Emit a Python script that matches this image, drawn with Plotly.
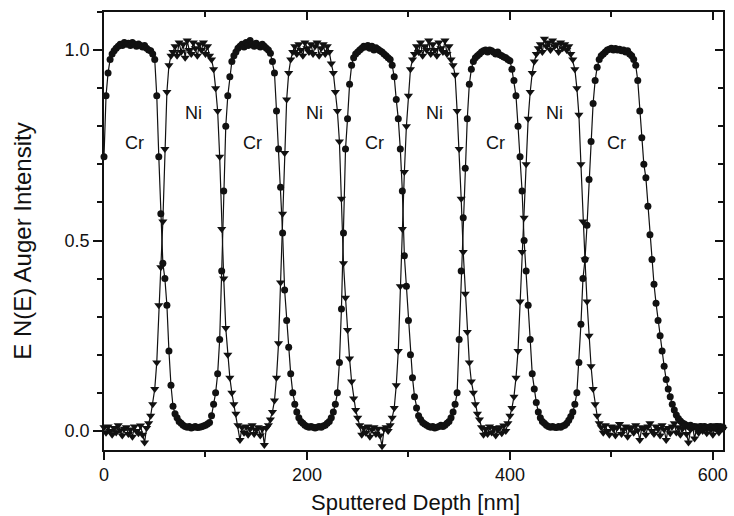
import plotly.graph_objects as go

# ---------------- data ----------------
depth_nm = [
    0, 2, 4, 6, 8, 10, 12, 14, 16, 18,
    20, 22, 24, 26, 28, 30, 32, 34, 36, 38,
    40, 42, 44, 46, 48, 50, 52, 54, 56, 58,
    60, 62, 64, 66, 68, 70, 72, 74, 76, 78,
    80, 82, 84, 86, 88, 90, 92, 94, 96, 98,
    100, 102, 104, 106, 108, 110, 112, 114, 116, 118,
    120, 122, 124, 126, 128, 130, 132, 134, 136, 138,
    140, 142, 144, 146, 148, 150, 152, 154, 156, 158,
    160, 162, 164, 166, 168, 170, 172, 174, 176, 178,
    180, 182, 184, 186, 188, 190, 192, 194, 196, 198,
    200, 202, 204, 206, 208, 210, 212, 214, 216, 218,
    220, 222, 224, 226, 228, 230, 232, 234, 236, 238,
    240, 242, 244, 246, 248, 250, 252, 254, 256, 258,
    260, 262, 264, 266, 268, 270, 272, 274, 276, 278,
    280, 282, 284, 286, 288, 290, 292, 294, 296, 298,
    300, 302, 304, 306, 308, 310, 312, 314, 316, 318,
    320, 322, 324, 326, 328, 330, 332, 334, 336, 338,
    340, 342, 344, 346, 348, 350, 352, 354, 356, 358,
    360, 362, 364, 366, 368, 370, 372, 374, 376, 378,
    380, 382, 384, 386, 388, 390, 392, 394, 396, 398,
    400, 402, 404, 406, 408, 410, 412, 414, 416, 418,
    420, 422, 424, 426, 428, 430, 432, 434, 436, 438,
    440, 442, 444, 446, 448, 450, 452, 454, 456, 458,
    460, 462, 464, 466, 468, 470, 472, 474, 476, 478,
    480, 482, 484, 486, 488, 490, 492, 494, 496, 498,
    500, 502, 504, 506, 508, 510, 512, 514, 516, 518,
    520, 522, 524, 526, 528, 530, 532, 534, 536, 538,
    540, 542, 544, 546, 548, 550, 552, 554, 556, 558,
    560, 562, 564, 566, 568, 570, 572, 574, 576, 578,
    580, 582, 584, 586, 588, 590, 592, 594, 596, 598,
    600, 602, 604, 606, 608, 610,
]

cr_intensity = [
    0.72, 0.88, 0.94, 0.975, 0.99, 0.998, 1.005, 1.01, 1.015, 1.012,
    1.02, 1.015, 1.018, 1.012, 1.02, 1.015, 1.01, 1.016, 1.012, 1.008,
    1.012, 1.005, 1.0, 0.998, 0.99, 0.975, 0.88, 0.72, 0.57, 0.44,
    0.40, 0.33, 0.21, 0.12, 0.065, 0.045, 0.035, 0.025, 0.02, 0.015,
    0.012, 0.01, 0.012, 0.008, 0.01, 0.012, 0.009, 0.01, 0.011, 0.013,
    0.015, 0.018, 0.022, 0.04, 0.07, 0.10, 0.15, 0.24, 0.42, 0.63,
    0.80, 0.88, 0.93, 0.97, 0.985, 0.995, 1.005, 1.01, 1.015, 1.008,
    1.02, 1.012, 1.025, 1.015, 1.01, 1.018, 1.012, 1.008, 1.015, 1.01,
    1.005, 1.0, 0.992, 0.97, 0.94, 0.84, 0.74, 0.64, 0.52, 0.37,
    0.29, 0.22, 0.15, 0.10, 0.07, 0.05, 0.035, 0.025, 0.02, 0.015,
    0.012, 0.01, 0.012, 0.01, 0.008, 0.01, 0.012, 0.01, 0.013, 0.015,
    0.02, 0.025, 0.035, 0.05, 0.07, 0.10, 0.18, 0.32, 0.52, 0.74,
    0.82, 0.91, 0.96, 0.98, 0.99, 0.995, 1.0, 1.005, 1.01, 1.008,
    1.012, 1.005, 1.01, 1.0, 1.006, 1.002, 0.998, 0.995, 0.99, 0.985,
    0.98, 0.975, 0.96, 0.93, 0.87, 0.82, 0.74, 0.63, 0.46, 0.38,
    0.29, 0.20, 0.14, 0.09, 0.06, 0.04, 0.03, 0.022, 0.018, 0.015,
    0.012, 0.01, 0.012, 0.008, 0.01, 0.012, 0.015, 0.012, 0.015, 0.02,
    0.025, 0.035, 0.05, 0.07, 0.10, 0.24, 0.42, 0.56, 0.69, 0.82,
    0.91, 0.95, 0.97, 0.98, 0.985, 0.99, 0.995, 0.998, 1.0, 0.995,
    1.0, 0.998, 0.994, 0.99, 0.995, 0.988, 0.985, 0.982, 0.98, 0.975,
    0.972, 0.95, 0.92, 0.88, 0.80, 0.72, 0.63, 0.50, 0.42, 0.33,
    0.24, 0.15, 0.11, 0.075, 0.05, 0.035, 0.025, 0.02, 0.015, 0.012,
    0.01, 0.012, 0.01, 0.009, 0.012, 0.01, 0.013, 0.015, 0.02, 0.028,
    0.038, 0.05, 0.07, 0.10, 0.18, 0.28, 0.40, 0.45, 0.54, 0.66,
    0.76, 0.86, 0.92, 0.955, 0.975, 0.985, 0.99, 0.995, 1.0, 1.002,
    1.005, 1.0, 1.004, 1.0, 1.002, 0.998, 1.0, 0.995, 0.998, 0.99,
    0.985, 0.975, 0.96, 0.92, 0.84, 0.77, 0.70, 0.665, 0.59, 0.515,
    0.45, 0.385, 0.335, 0.29, 0.25, 0.21, 0.17, 0.135, 0.11, 0.09,
    0.07, 0.055, 0.042, 0.033, 0.026, 0.021, 0.018, 0.015, 0.012, 0.015,
    0.01, 0.012, 0.01, 0.008, 0.012, 0.01, 0.012, 0.009, 0.01, 0.012,
    0.008, 0.01, 0.012, 0.01, 0.011, 0.01,
]

ni_intensity = [
    0.01, -0.005, 0.012, 0.0, -0.01, 0.008, -0.004, 0.015, 0.002, -0.012,
    0.006, 0.01, -0.008, 0.004, -0.015, 0.012, 0.0, -0.006, 0.014, -0.01,
    -0.03, 0.008, 0.02, 0.04, 0.07, 0.11, 0.18, 0.33, 0.43, 0.55,
    0.74, 0.89, 0.96, 0.985, 0.995, 1.01, 0.985, 1.02, 0.995, 1.015,
    0.98, 1.025, 1.0, 0.99, 1.02, 1.005, 0.985, 1.015, 1.0, 1.02,
    0.99, 1.01, 0.985, 0.975, 0.95, 0.90, 0.84, 0.72, 0.53, 0.40,
    0.27, 0.20, 0.14, 0.10, 0.07, 0.045, 0.015, -0.024, 0.01, -0.005,
    0.012, -0.01, 0.005, 0.015, -0.008, 0.003, 0.01, -0.012, 0.006, -0.037,
    0.008, 0.015, 0.03, 0.05, 0.08, 0.14, 0.23, 0.39, 0.57, 0.73,
    0.87, 0.94, 0.975, 0.995, 1.01, 0.99, 1.015, 1.0, 0.985, 1.02,
    1.005, 0.995, 1.015, 0.99, 1.01, 1.02, 0.985, 1.005, 1.015, 0.99,
    1.01, 0.995, 0.965, 0.94, 0.89, 0.84, 0.76, 0.61, 0.44, 0.35,
    0.265, 0.19, 0.13, 0.085, 0.055, 0.035, 0.015, -0.01, 0.008, -0.005,
    0.012, -0.015, 0.004, 0.01, -0.008, 0.006, -0.012, -0.04, 0.005, 0.01,
    0.0, 0.015, 0.035, 0.06, 0.12, 0.21, 0.38, 0.53, 0.68, 0.80,
    0.88, 0.95, 0.975, 0.99, 1.01, 0.995, 1.02, 0.985, 1.01, 1.0,
    1.025, 0.99, 1.015, 1.0, 0.985, 1.02, 1.005, 0.995, 1.025, 0.99,
    1.01, 0.975, 0.96, 0.935, 0.84, 0.74, 0.61, 0.47, 0.36, 0.26,
    0.18, 0.13, 0.10, 0.07, 0.045, 0.03, 0.01, -0.01, 0.005, -0.008,
    0.012, -0.004, 0.008, -0.012, 0.003, 0.01, -0.006, 0.014, 0.0, 0.02,
    0.04, 0.06, 0.09, 0.14, 0.21, 0.34, 0.47, 0.56, 0.70, 0.82,
    0.89, 0.94, 0.97, 0.99, 1.005, 1.015, 0.995, 1.03, 1.01, 1.02,
    1.0, 1.025, 1.01, 1.015, 0.995, 1.02, 1.005, 1.015, 1.0, 1.01,
    0.99, 0.975, 0.95, 0.90, 0.83, 0.70, 0.55, 0.45, 0.34, 0.25,
    0.17, 0.11, 0.07, 0.04, 0.02, 0.01, -0.005, 0.015, 0.0, -0.01,
    0.012, 0.005, -0.012, 0.01, 0.018, -0.008, 0.004, 0.012, -0.015, 0.006,
    0.01, -0.005, 0.015, 0.002, -0.024, 0.01, 0.005, -0.01, 0.012, 0.02,
    0.0, -0.008, 0.012, 0.005, -0.012, 0.015, 0.004, -0.024, 0.008, -0.006,
    0.012, 0.02, -0.004, 0.01, -0.01, 0.006, 0.015, -0.008, -0.03, 0.004,
    0.012, -0.02, 0.008, -0.005, 0.014, 0.0, 0.01, -0.006, 0.012, 0.004,
    -0.01, 0.008, 0.015, -0.004, 0.01, 0.005,
]

x_tick_vals = [0, 200, 400, 600]
x_minor_vals = [100, 300, 500]
y_tick_vals = [0.0, 0.5, 1.0]
y_tick_text = ["0.0", "0.5", "1.0"]

label_text = ["Cr", "Ni", "Cr", "Ni", "Cr", "Ni", "Cr", "Ni", "Cr"]
label_x = [30, 88, 146, 207, 266.5, 325.5, 386, 444, 505]
label_y = [0.757, 0.836, 0.757, 0.836, 0.757, 0.836, 0.757, 0.836, 0.757]

x_title = "Sputtered Depth [nm]"
y_title = "E N(E) Auger Intensity"

# ---------------- figure ----------------
INK = "#111111"
FONT = "Liberation Sans, Arial, Helvetica, sans-serif"
X_RANGE = [0, 610]
Y_RANGE = [-0.05, 1.1]

fig = go.Figure()
fig.add_trace(go.Scatter(
    x=depth_nm, y=cr_intensity, mode="lines+markers", name="Cr",
    line=dict(color=INK, width=1.2),
    marker=dict(symbol="circle", size=7, color=INK),
    cliponaxis=False,
))
fig.add_trace(go.Scatter(
    x=depth_nm, y=ni_intensity, mode="lines+markers", name="Ni",
    line=dict(color=INK, width=1.2),
    marker=dict(symbol="triangle-down", size=8, color=INK),
    cliponaxis=False,
))
# empty trace so that the mirrored top/right frame axes are drawn
fig.add_trace(go.Scatter(x=[None], y=[None], xaxis="x2", yaxis="y2",
                         mode="markers", showlegend=False, hoverinfo="skip"))

for t, xv, yv in zip(label_text, label_x, label_y):
    fig.add_annotation(x=xv, y=yv, xref="x", yref="y", text=t, showarrow=False,
                       font=dict(size=18, color=INK, family=FONT))

# axis titles
fig.add_annotation(x=0.503, y=-0.121, xref="paper", yref="paper", text=x_title,
                   showarrow=False, xanchor="center", yanchor="middle",
                   font=dict(size=22, color=INK, family=FONT))
fig.add_annotation(x=-0.133, y=0.477, xref="paper", yref="paper", text=y_title,
                   showarrow=False, xanchor="center", yanchor="middle", textangle=-90,
                   font=dict(size=24, color=INK, family=FONT))

axis_common = dict(showgrid=False, zeroline=False, showline=True,
                   linecolor=INK, linewidth=1.5, tickcolor=INK, tickwidth=1.5)

fig.update_layout(
    width=734, height=516,
    margin=dict(l=104, r=6, t=12, b=66, pad=0),
    paper_bgcolor="white", plot_bgcolor="white",
    showlegend=False,
    font=dict(family=FONT, color=INK),
    xaxis=dict(
        range=X_RANGE, tickmode="array", tickvals=x_tick_vals,
        ticks="outside", ticklen=8,
        tickfont=dict(size=18, color=INK),
        minor=dict(tickmode="array", tickvals=x_minor_vals, ticks="outside",
                   ticklen=5, tickcolor=INK, tickwidth=1.5),
        **axis_common,
    ),
    yaxis=dict(
        range=Y_RANGE, tickmode="array", tickvals=y_tick_vals, ticktext=y_tick_text,
        ticks="outside", ticklen=9,
        tickfont=dict(size=18, color=INK),
        minor=dict(tick0=0, dtick=0.1, ticks="outside", ticklen=5,
                   tickcolor=INK, tickwidth=1.5),
        **axis_common,
    ),
    xaxis2=dict(
        range=X_RANGE, overlaying="x", side="top", anchor="y",
        tickmode="array", tickvals=x_tick_vals, ticks="inside", ticklen=8,
        showticklabels=False,
        minor=dict(tickmode="array", tickvals=x_minor_vals, ticks="inside",
                   ticklen=5, tickcolor=INK, tickwidth=1.5),
        **axis_common,
    ),
    yaxis2=dict(
        range=Y_RANGE, overlaying="y", side="right", anchor="x",
        tickmode="array", tickvals=y_tick_vals, ticks="inside", ticklen=8,
        showticklabels=False,
        minor=dict(tick0=0, dtick=0.1, ticks="inside", ticklen=5,
                   tickcolor=INK, tickwidth=1.5),
        **axis_common,
    ),
)

fig.write_html("out.html")
